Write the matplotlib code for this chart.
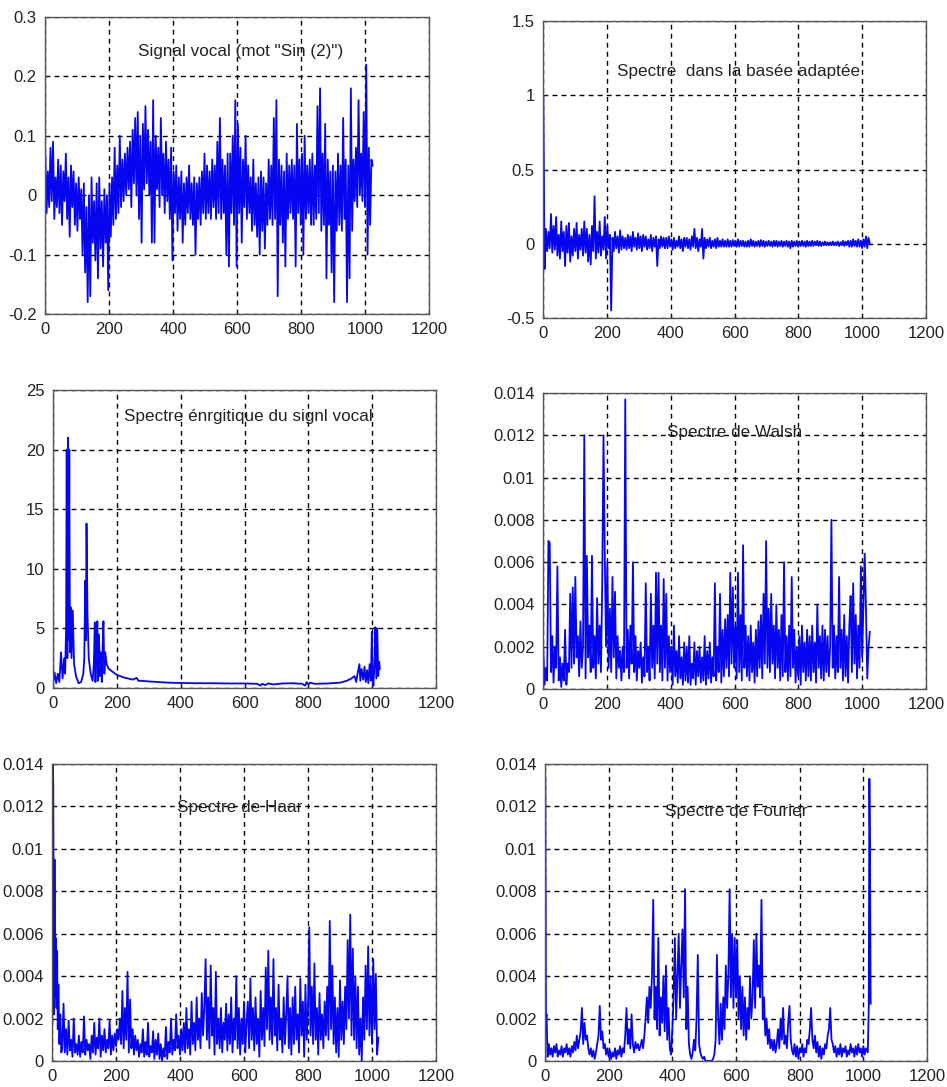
import numpy as np
import matplotlib
matplotlib.use("Agg")
import matplotlib.pyplot as plt

plt.rcParams['font.family'] = ['Liberation Sans', 'DejaVu Sans']

# ---------------- data ----------------
signal_vals = [
    0.07, -0.03, 0.04, -0.02, 0.08, -0.01, 0.09, -0.04, 0.03, -0.02, 0.06, -0.03, 0.05, -0.05, 0.04, -0.01,
    0.07, -0.04, 0.03, -0.07, 0.05, -0.02, 0.04, -0.05, 0.02, -0.06, 0.03, -0.04, 0.01, -0.10, 0.02, -0.13,
    -0.02, -0.18, 0.00, -0.17, 0.03, -0.08, -0.01, -0.11, 0.02, -0.14, 0.03, -0.09, -0.01, -0.12, 0.01, -0.08,
    0.00, -0.16, 0.02, -0.07, 0.03, -0.05, 0.08, -0.04, 0.05, -0.03, 0.10, -0.02, 0.06, -0.01, 0.07, 0.00,
    0.08, 0.01, 0.09, -0.02, 0.11, 0.02, 0.13, 0.00, 0.14, -0.04, 0.10, -0.08, 0.12, 0.01, 0.15, 0.02,
    0.11, 0.00, 0.09, -0.08, 0.16, -0.08, 0.10, 0.01, 0.08, -0.02, 0.13, 0.00, 0.07, -0.03, 0.09, -0.01,
    0.06, -0.04, 0.08, -0.11, 0.04, -0.03, 0.05, -0.06, 0.03, -0.04, 0.04, -0.08, 0.02, -0.05, 0.03, -0.03,
    0.05, -0.04, 0.02, -0.05, 0.03, -0.10, 0.02, -0.04, 0.03, -0.05, 0.04, -0.03, 0.07, -0.04, 0.05, -0.03,
    0.04, -0.04, 0.06, -0.02, 0.05, -0.04, 0.09, -0.03, 0.13, -0.04, 0.06, -0.03, 0.05, -0.10, 0.07, -0.12,
    0.07, -0.03, 0.10, -0.05, 0.16, -0.12, 0.12, -0.03, 0.08, -0.08, 0.06, -0.02, 0.10, -0.04, 0.05, -0.03,
    0.03, -0.06, 0.06, -0.05, 0.02, -0.07, 0.03, -0.10, 0.04, -0.06, 0.03, -0.09, 0.02, -0.05, 0.06, -0.04,
    0.05, -0.05, 0.13, -0.04, 0.16, -0.17, 0.06, -0.05, 0.05, -0.08, 0.04, -0.12, 0.07, -0.04, 0.05, -0.03,
    0.06, -0.04, 0.05, -0.12, 0.12, -0.03, 0.06, -0.05, 0.07, -0.10, 0.10, -0.04, 0.05, -0.03, 0.06, -0.05,
    0.07, -0.05, 0.05, -0.04, 0.15, -0.03, 0.18, -0.06, 0.07, -0.05, 0.12, -0.14, 0.06, -0.05, 0.04, -0.13,
    0.05, -0.18, 0.04, -0.06, 0.07, -0.05, 0.05, -0.06, 0.13, -0.04, 0.06, -0.18, 0.05, -0.14, 0.18, -0.06,
    0.06, -0.01, 0.08, -0.02, 0.16, 0.00, 0.07, -0.01, 0.14, -0.02, 0.22, -0.10, 0.08, -0.05, 0.06, 0.05,
]

adapt_vals = [
    1.00, -0.17, 0.10, -0.05, 0.08, -0.03, 0.20, -0.06, 0.12, -0.04, 0.18, -0.08, 0.06, -0.10, 0.15, -0.05,
    0.08, -0.15, 0.12, -0.06, 0.14, -0.12, 0.05, -0.08, 0.10, -0.05, 0.14, -0.10, 0.06, -0.04, 0.10, -0.08,
    0.15, -0.06, 0.10, -0.12, 0.06, -0.14, 0.12, -0.05, 0.32, -0.10, 0.08, -0.06, 0.15, -0.08, 0.05, -0.04,
    0.18, -0.10, 0.12, -0.03, 0.06, -0.45, 0.04, -0.05, 0.08, -0.03, 0.05, -0.06, 0.09, -0.04, 0.05, -0.03,
    0.04, -0.04, 0.06, -0.03, 0.05, -0.05, 0.08, -0.02, 0.04, -0.04, 0.07, -0.03, 0.05, -0.05, 0.06, -0.02,
    0.05, -0.04, 0.03, -0.03, 0.06, -0.05, 0.04, -0.02, 0.05, -0.15, 0.03, -0.03, 0.05, -0.02, 0.04, -0.03,
    0.04, -0.03, 0.05, -0.02, 0.03, -0.04, 0.04, -0.03, 0.02, -0.02, 0.05, -0.03, 0.03, -0.05, 0.04, -0.02,
    0.04, -0.03, 0.03, -0.04, 0.05, -0.02, 0.10, -0.03, 0.04, -0.05, 0.03, -0.02, 0.10, -0.10, 0.04, -0.03,
    0.03, -0.02, 0.04, -0.03, 0.02, -0.02, 0.03, -0.03, 0.04, -0.02, 0.02, -0.02, 0.03, -0.02, 0.02, -0.02,
    0.03, -0.02, 0.02, -0.02, 0.025, -0.015, 0.02, -0.02, 0.03, -0.02, 0.02, -0.015, 0.02, -0.02, 0.015, -0.02,
    0.02, -0.02, 0.03, -0.015, 0.02, -0.02, 0.015, -0.015, 0.02, -0.02, 0.025, -0.015, 0.02, -0.02, 0.015, -0.015,
    0.02, -0.015, 0.015, -0.02, 0.02, -0.015, 0.02, -0.02, 0.015, -0.015, 0.02, -0.02, 0.015, -0.015, 0.02, -0.02,
    0.015, -0.03, 0.02, -0.02, 0.015, -0.015, 0.02, -0.02, 0.015, -0.015, 0.02, -0.015, 0.015, -0.02, 0.02, -0.015,
    0.015, -0.015, 0.02, -0.015, 0.015, -0.01, 0.02, -0.015, 0.015, -0.015, 0.01, -0.01, 0.015, -0.01, 0.01, -0.01,
    0.01, -0.01, 0.015, -0.01, 0.01, -0.01, 0.015, -0.015, 0.01, -0.01, 0.02, -0.015, 0.015, -0.01, 0.02, -0.02,
    0.02, -0.02, 0.03, -0.015, 0.02, -0.02, 0.03, -0.02, 0.02, -0.03, 0.03, -0.02, 0.05, -0.03, 0.04, 0.00,
]

energy_x = [1, 5, 10, 15, 20, 25, 30, 35, 38, 41, 43, 45, 47, 49, 51, 53, 55, 58,
            62, 66, 72, 80, 88, 95, 98, 101, 103, 105, 108, 112, 118, 124, 128,
            131, 133, 136, 139, 141, 144, 147, 150, 153, 156, 158, 161, 164, 168,
            175, 185, 200, 220, 250, 262, 268, 280, 300, 330, 360, 400, 450, 500,
            550, 600, 640, 650, 655, 665, 675, 690, 720, 750, 780, 790, 795, 800,
            806, 820, 860, 900, 920, 935, 945, 950, 955, 960, 963, 967, 972, 976,
            980, 984, 988, 992, 996, 999, 1001, 1004, 1007, 1010, 1013, 1016,
            1019, 1022, 1024]
energy_vals = [0.5, 1.3, 0.4, 1.2, 0.5, 3.0, 0.8, 2.5, 1.2, 5.0, 20.0, 2.5, 21.0,
               4.0, 20.0, 3.0, 6.8, 2.5, 6.5, 2.0, 1.0, 0.4, 0.5, 1.2, 2.5, 9.0,
               4.0, 13.8, 6.3, 2.5, 1.2, 0.6, 2.0, 5.5, 0.5, 3.5, 5.6, 0.6, 4.5,
               1.0, 3.0, 0.5, 4.0, 5.6, 1.2, 3.0, 2.0, 1.6, 1.4, 1.1, 0.9, 0.7,
               0.85, 0.6, 0.6, 0.55, 0.5, 0.45, 0.42, 0.4, 0.4, 0.38, 0.38, 0.35,
               0.2, 0.35, 0.25, 0.38, 0.3, 0.38, 0.4, 0.35, 0.2, 0.5, 0.3, 0.45,
               0.35, 0.38, 0.45, 0.6, 0.8, 1.0, 0.5, 1.3, 2.0, 0.6, 1.6, 0.7, 1.8,
               0.5, 1.5, 0.4, 2.0, 0.6, 4.7, 1.0, 0.2, 2.0, 5.1, 0.8, 5.0, 1.0,
               2.2, 1.6]

walsh_vals = [
    0.0018, 0.0002, 0.0010, 0.0004, 0.0070, 0.0069, 0.0008, 0.0025, 0.0003, 0.0020, 0.0010, 0.0058, 0.0004, 0.0015, 0.0001, 0.0012,
    0.0004, 0.0028, 0.0002, 0.0012, 0.0008, 0.0045, 0.0010, 0.0048, 0.0012, 0.0053, 0.0015, 0.0025, 0.0006, 0.0032, 0.0010, 0.0020,
    0.0120, 0.0005, 0.0063, 0.0015, 0.0030, 0.0008, 0.0063, 0.0010, 0.0025, 0.0005, 0.0043, 0.0012, 0.0030, 0.0008, 0.0050, 0.0120,
    0.0063, 0.0020, 0.0060, 0.0010, 0.0038, 0.0008, 0.0053, 0.0015, 0.0046, 0.0005, 0.0025, 0.0010, 0.0018, 0.0004, 0.0020, 0.0008,
    0.0137, 0.0010, 0.0028, 0.0005, 0.0030, 0.0012, 0.0060, 0.0008, 0.0025, 0.0004, 0.0018, 0.0010, 0.0022, 0.0003, 0.0015, 0.0006,
    0.0050, 0.0008, 0.0020, 0.0004, 0.0045, 0.0010, 0.0030, 0.0005, 0.0055, 0.0012, 0.0055, 0.0008, 0.0030, 0.0004, 0.0052, 0.0010,
    0.0045, 0.0004, 0.0025, 0.0008, 0.0020, 0.0002, 0.0030, 0.0006, 0.0018, 0.0003, 0.0025, 0.0005, 0.0015, 0.0002, 0.0022, 0.0004,
    0.0020, 0.0003, 0.0025, 0.0002, 0.0012, 0.0005, 0.0022, 0.0002, 0.0018, 0.0006, 0.0020, 0.0003, 0.0015, 0.0004, 0.0025, 0.0002,
    0.0018, 0.0005, 0.0022, 0.0003, 0.0015, 0.0006, 0.0050, 0.0004, 0.0020, 0.0008, 0.0045, 0.0003, 0.0028, 0.0006, 0.0033, 0.0010,
    0.0035, 0.0006, 0.0055, 0.0012, 0.0048, 0.0010, 0.0030, 0.0005, 0.0055, 0.0008, 0.0035, 0.0004, 0.0068, 0.0010, 0.0030, 0.0006,
    0.0025, 0.0004, 0.0030, 0.0008, 0.0022, 0.0003, 0.0028, 0.0006, 0.0032, 0.0010, 0.0035, 0.0005, 0.0045, 0.0012, 0.0070, 0.0010,
    0.0038, 0.0008, 0.0045, 0.0012, 0.0030, 0.0005, 0.0040, 0.0010, 0.0028, 0.0004, 0.0035, 0.0006, 0.0060, 0.0008, 0.0025, 0.0004,
    0.0030, 0.0006, 0.0053, 0.0010, 0.0028, 0.0003, 0.0020, 0.0006, 0.0025, 0.0002, 0.0030, 0.0008, 0.0022, 0.0004, 0.0028, 0.0006,
    0.0025, 0.0004, 0.0030, 0.0008, 0.0022, 0.0003, 0.0040, 0.0010, 0.0025, 0.0005, 0.0030, 0.0004, 0.0028, 0.0008, 0.0025, 0.0006,
    0.0020, 0.0080, 0.0010, 0.0030, 0.0005, 0.0025, 0.0008, 0.0053, 0.0010, 0.0028, 0.0004, 0.0035, 0.0006, 0.0025, 0.0003, 0.0030,
    0.0044, 0.0008, 0.0050, 0.0012, 0.0035, 0.0005, 0.0030, 0.0010, 0.0058, 0.0015, 0.0040, 0.0064, 0.0038, 0.0005, 0.0020, 0.0027,
]

haar_head_x = [1, 2, 4, 6, 8, 10, 12, 14, 16, 18, 20, 23, 26, 29]
haar_head_vals = [0.0018, 0.0140, 0.0130, 0.0022, 0.0095, 0.0030, 0.0058,
                  0.0025, 0.0052, 0.0015, 0.0036, 0.0008, 0.0022, 0.0004]
haar_vals = [
    0.0006, 0.0027, 0.0004, 0.0015, 0.0003, 0.0019, 0.0005, 0.0010, 0.0002, 0.0020, 0.0004, 0.0008, 0.0003, 0.0012, 0.0002, 0.0009,
    0.0004, 0.0021, 0.0003, 0.0010, 0.0005, 0.0008, 0.0001, 0.0012, 0.0004, 0.0018, 0.0003, 0.0011, 0.0006, 0.0020, 0.0002, 0.0012,
    0.0005, 0.0015, 0.0004, 0.0010, 0.0006, 0.0019, 0.0003, 0.0012, 0.0005, 0.0013, 0.0007, 0.0015, 0.0010, 0.0020, 0.0008, 0.0033,
    0.0006, 0.0025, 0.0010, 0.0042, 0.0004, 0.0029, 0.0006, 0.0015, 0.0003, 0.0012, 0.0005, 0.0010, 0.0002, 0.0008, 0.0004, 0.0015,
    0.0002, 0.0009, 0.0003, 0.0018, 0.0002, 0.0007, 0.0004, 0.0014, 0.0001, 0.0010, 0.0003, 0.0013, 0.0001, 0.0008, 0.0000, 0.0006,
    0.0002, 0.0016, 0.0001, 0.0009, 0.0004, 0.0020, 0.0003, 0.0010, 0.0005, 0.0022, 0.0006, 0.0012, 0.0003, 0.0015, 0.0005, 0.0018,
    0.0004, 0.0025, 0.0006, 0.0015, 0.0003, 0.0028, 0.0008, 0.0018, 0.0005, 0.0030, 0.0010, 0.0020, 0.0006, 0.0032, 0.0012, 0.0025,
    0.0048, 0.0010, 0.0030, 0.0006, 0.0045, 0.0012, 0.0025, 0.0003, 0.0042, 0.0008, 0.0020, 0.0006, 0.0025, 0.0004, 0.0018, 0.0010,
    0.0027, 0.0005, 0.0022, 0.0008, 0.0030, 0.0004, 0.0020, 0.0010, 0.0040, 0.0006, 0.0025, 0.0003, 0.0020, 0.0008, 0.0028, 0.0004,
    0.0018, 0.0028, 0.0006, 0.0039, 0.0010, 0.0025, 0.0005, 0.0030, 0.0008, 0.0020, 0.0002, 0.0033, 0.0010, 0.0025, 0.0007, 0.0044,
    0.0015, 0.0052, 0.0010, 0.0030, 0.0008, 0.0048, 0.0012, 0.0025, 0.0005, 0.0036, 0.0010, 0.0020, 0.0004, 0.0030, 0.0008, 0.0022,
    0.0040, 0.0006, 0.0025, 0.0003, 0.0030, 0.0008, 0.0035, 0.0010, 0.0022, 0.0004, 0.0039, 0.0012, 0.0028, 0.0002, 0.0036, 0.0010,
    0.0025, 0.0063, 0.0012, 0.0035, 0.0008, 0.0046, 0.0010, 0.0025, 0.0003, 0.0032, 0.0010, 0.0022, 0.0006, 0.0028, 0.0012, 0.0035,
    0.0010, 0.0066, 0.0015, 0.0045, 0.0008, 0.0030, 0.0004, 0.0025, 0.0002, 0.0038, 0.0010, 0.0028, 0.0008, 0.0035, 0.0015, 0.0057,
    0.0020, 0.0069, 0.0012, 0.0053, 0.0010, 0.0040, 0.0006, 0.0035, 0.0003, 0.0020, 0.0000, 0.0030, 0.0010, 0.0045, 0.0015, 0.0054,
    0.0012, 0.0040, 0.0008, 0.0048, 0.0015, 0.0041, 0.0003, 0.0011,
]

fourier_head_x = [1, 3, 5, 8]
fourier_head_vals = [0.0133, 0.0020, 0.0022, 0.0002]
fourier_vals = [
    0.0008, 0.0003, 0.0006, 0.0002, 0.0007, 0.0004, 0.0008, 0.0002, 0.0005, 0.0003, 0.0007, 0.0002, 0.0006, 0.0004, 0.0008, 0.0003,
    0.0006, 0.0002, 0.0007, 0.0004, 0.0009, 0.0005, 0.0012, 0.0006, 0.0010, 0.0014, 0.0025, 0.0008, 0.0018, 0.0010, 0.0012, 0.0006,
    0.0003, 0.0006, 0.0002, 0.0005, 0.0001, 0.0004, 0.0008, 0.0012, 0.0026, 0.0010, 0.0014, 0.0006, 0.0008, 0.0003, 0.0006, 0.0002,
    0.0005, 0.0001, 0.0004, 0.0002, 0.0006, 0.0001, 0.0005, 0.0003, 0.0007, 0.0002, 0.0006, 0.0004, 0.0012, 0.0025, 0.0008, 0.0015,
    0.0006, 0.0022, 0.0008, 0.0004, 0.0009, 0.0006, 0.0008, 0.0005, 0.0007, 0.0010, 0.0006, 0.0012, 0.0020, 0.0030, 0.0018, 0.0035,
    0.0025, 0.0040, 0.0076, 0.0020, 0.0035, 0.0015, 0.0058, 0.0012, 0.0030, 0.0018, 0.0040, 0.0014, 0.0045, 0.0010, 0.0025, 0.0006,
    0.0003, 0.0015, 0.0030, 0.0058, 0.0020, 0.0040, 0.0060, 0.0025, 0.0045, 0.0062, 0.0030, 0.0081, 0.0015, 0.0035, 0.0008, 0.0003,
    0.0001, 0.0004, 0.0010, 0.0005, 0.0020, 0.0050, 0.0008, 0.0004, 0.0002, 0.0001, 0.0002, 0.0000, 0.0000, 0.0000, 0.0000, 0.0000,
    0.0000, 0.0001, 0.0003, 0.0010, 0.0050, 0.0020, 0.0008, 0.0027, 0.0010, 0.0030, 0.0015, 0.0045, 0.0025, 0.0040, 0.0081, 0.0030,
    0.0060, 0.0025, 0.0058, 0.0030, 0.0057, 0.0020, 0.0040, 0.0015, 0.0035, 0.0012, 0.0030, 0.0010, 0.0025, 0.0015, 0.0040, 0.0020,
    0.0030, 0.0057, 0.0025, 0.0060, 0.0035, 0.0045, 0.0030, 0.0076, 0.0020, 0.0030, 0.0012, 0.0020, 0.0008, 0.0015, 0.0006, 0.0010,
    0.0005, 0.0010, 0.0004, 0.0008, 0.0015, 0.0006, 0.0020, 0.0010, 0.0025, 0.0008, 0.0012, 0.0006, 0.0018, 0.0026, 0.0010, 0.0005,
    0.0003, 0.0008, 0.0002, 0.0007, 0.0001, 0.0006, 0.0004, 0.0008, 0.0002, 0.0006, 0.0004, 0.0010, 0.0008, 0.0015, 0.0025, 0.0010,
    0.0006, 0.0012, 0.0004, 0.0009, 0.0002, 0.0007, 0.0001, 0.0006, 0.0003, 0.0008, 0.0006, 0.0012, 0.0015, 0.0025, 0.0010, 0.0008,
    0.0004, 0.0007, 0.0002, 0.0006, 0.0003, 0.0008, 0.0002, 0.0006, 0.0004, 0.0007, 0.0002, 0.0005, 0.0003, 0.0008, 0.0004, 0.0006,
    0.0002, 0.0007, 0.0003, 0.0008, 0.0004, 0.0006, 0.0002, 0.0007, 0.0003, 0.0006,
]
fourier_tail_x = [1014, 1017, 1019, 1021, 1023]
fourier_tail_vals = [0.0004, 0.0025, 0.0133, 0.0100, 0.0027]

titles = ['Signal vocal (mot "Sin (2)")', 'Spectre  dans la basée adaptée',
          'Spectre énrgitique du signl vocal', 'Spectre de Walsh',
          'Spectre de Haar', 'Spectre de Fourier']

x_ticks = [0, 200, 400, 600, 800, 1000, 1200]
x_ticklabels = ['0', '200', '400', '600', '800', '1000', '1200']
yt_signal = [-0.2, -0.1, 0, 0.1, 0.2, 0.3]
yl_signal = ['-0.2', '-0.1', '0', '0.1', '0.2', '0.3']
yt_adapt = [-0.5, 0, 0.5, 1, 1.5]
yl_adapt = ['-0.5', '0', '0.5', '1', '1.5']
yt_energy = [0, 5, 10, 15, 20, 25]
yl_energy = ['0', '5', '10', '15', '20', '25']
yt_small = [0, 0.002, 0.004, 0.006, 0.008, 0.01, 0.012, 0.014]
yl_small = ['0', '0.002', '0.004', '0.006', '0.008', '0.01', '0.012', '0.014']

# ---------------- build x arrays (sample index) ----------------
x_signal = np.linspace(1, 1024, len(signal_vals))
x_adapt = np.linspace(1, 1024, len(adapt_vals))
x_walsh = np.linspace(1, 1024, len(walsh_vals))
x_haar = np.concatenate([haar_head_x, 32 + 4 * np.arange(len(haar_vals))])
y_haar = np.concatenate([haar_head_vals, haar_vals])
x_four = np.concatenate([fourier_head_x, 12 + 4 * np.arange(len(fourier_vals)), fourier_tail_x])
y_four = np.concatenate([fourier_head_vals, fourier_vals, fourier_tail_vals])

W, H = 947, 1087
fig = plt.figure(figsize=(W / 100, H / 100), dpi=100)

def add_ax(x0, y0, x1, y1):
    return fig.add_axes([x0 / W, 1 - y1 / H, (x1 - x0) / W, (y1 - y0) / H])

boxes = [(45, 17, 429, 314), (543, 21, 926, 318),
         (53, 390, 436, 688), (543, 393, 926, 689),
         (52, 764, 436, 1061), (545, 764, 927, 1061)]
series = [(x_signal, signal_vals), (x_adapt, adapt_vals),
          (energy_x, energy_vals), (x_walsh, walsh_vals),
          (x_haar, y_haar), (x_four, y_four)]
yticks = [(yt_signal, yl_signal), (yt_adapt, yl_adapt), (yt_energy, yl_energy),
          (yt_small, yl_small), (yt_small, yl_small), (yt_small, yl_small)]
title_pos = [(0.51, 0.885), (0.51, 0.83), (0.51, 0.91),
             (0.50, 0.865), (0.49, 0.855), (0.50, 0.84)]

for box, (xs, ys), (yt, yl), title, tp in zip(boxes, series, yticks, titles, title_pos):
    ax = add_ax(*box)
    ax.plot(xs, ys, color='#0505f0', lw=1.3)
    ax.set_xlim(0, 1200)
    ax.set_ylim(yt[0], yt[-1])
    ax.set_xticks(x_ticks)
    ax.set_xticklabels(x_ticklabels)
    ax.set_yticks(yt)
    ax.set_yticklabels(yl)
    ax.tick_params(direction='in', length=3, labelsize=12, colors='#222222',
                   pad=6)
    ax.grid(True, color='black', linestyle=(0, (3.5, 3)), linewidth=1.0)
    for s in ax.spines.values():
        s.set_color('#555555')
        s.set_linewidth(1.0)
    ax.text(tp[0], tp[1], title, transform=ax.transAxes, ha='center',
            va='center', fontsize=12.3, color='#222222')

fig.savefig('out.png', dpi=100, facecolor='white')
